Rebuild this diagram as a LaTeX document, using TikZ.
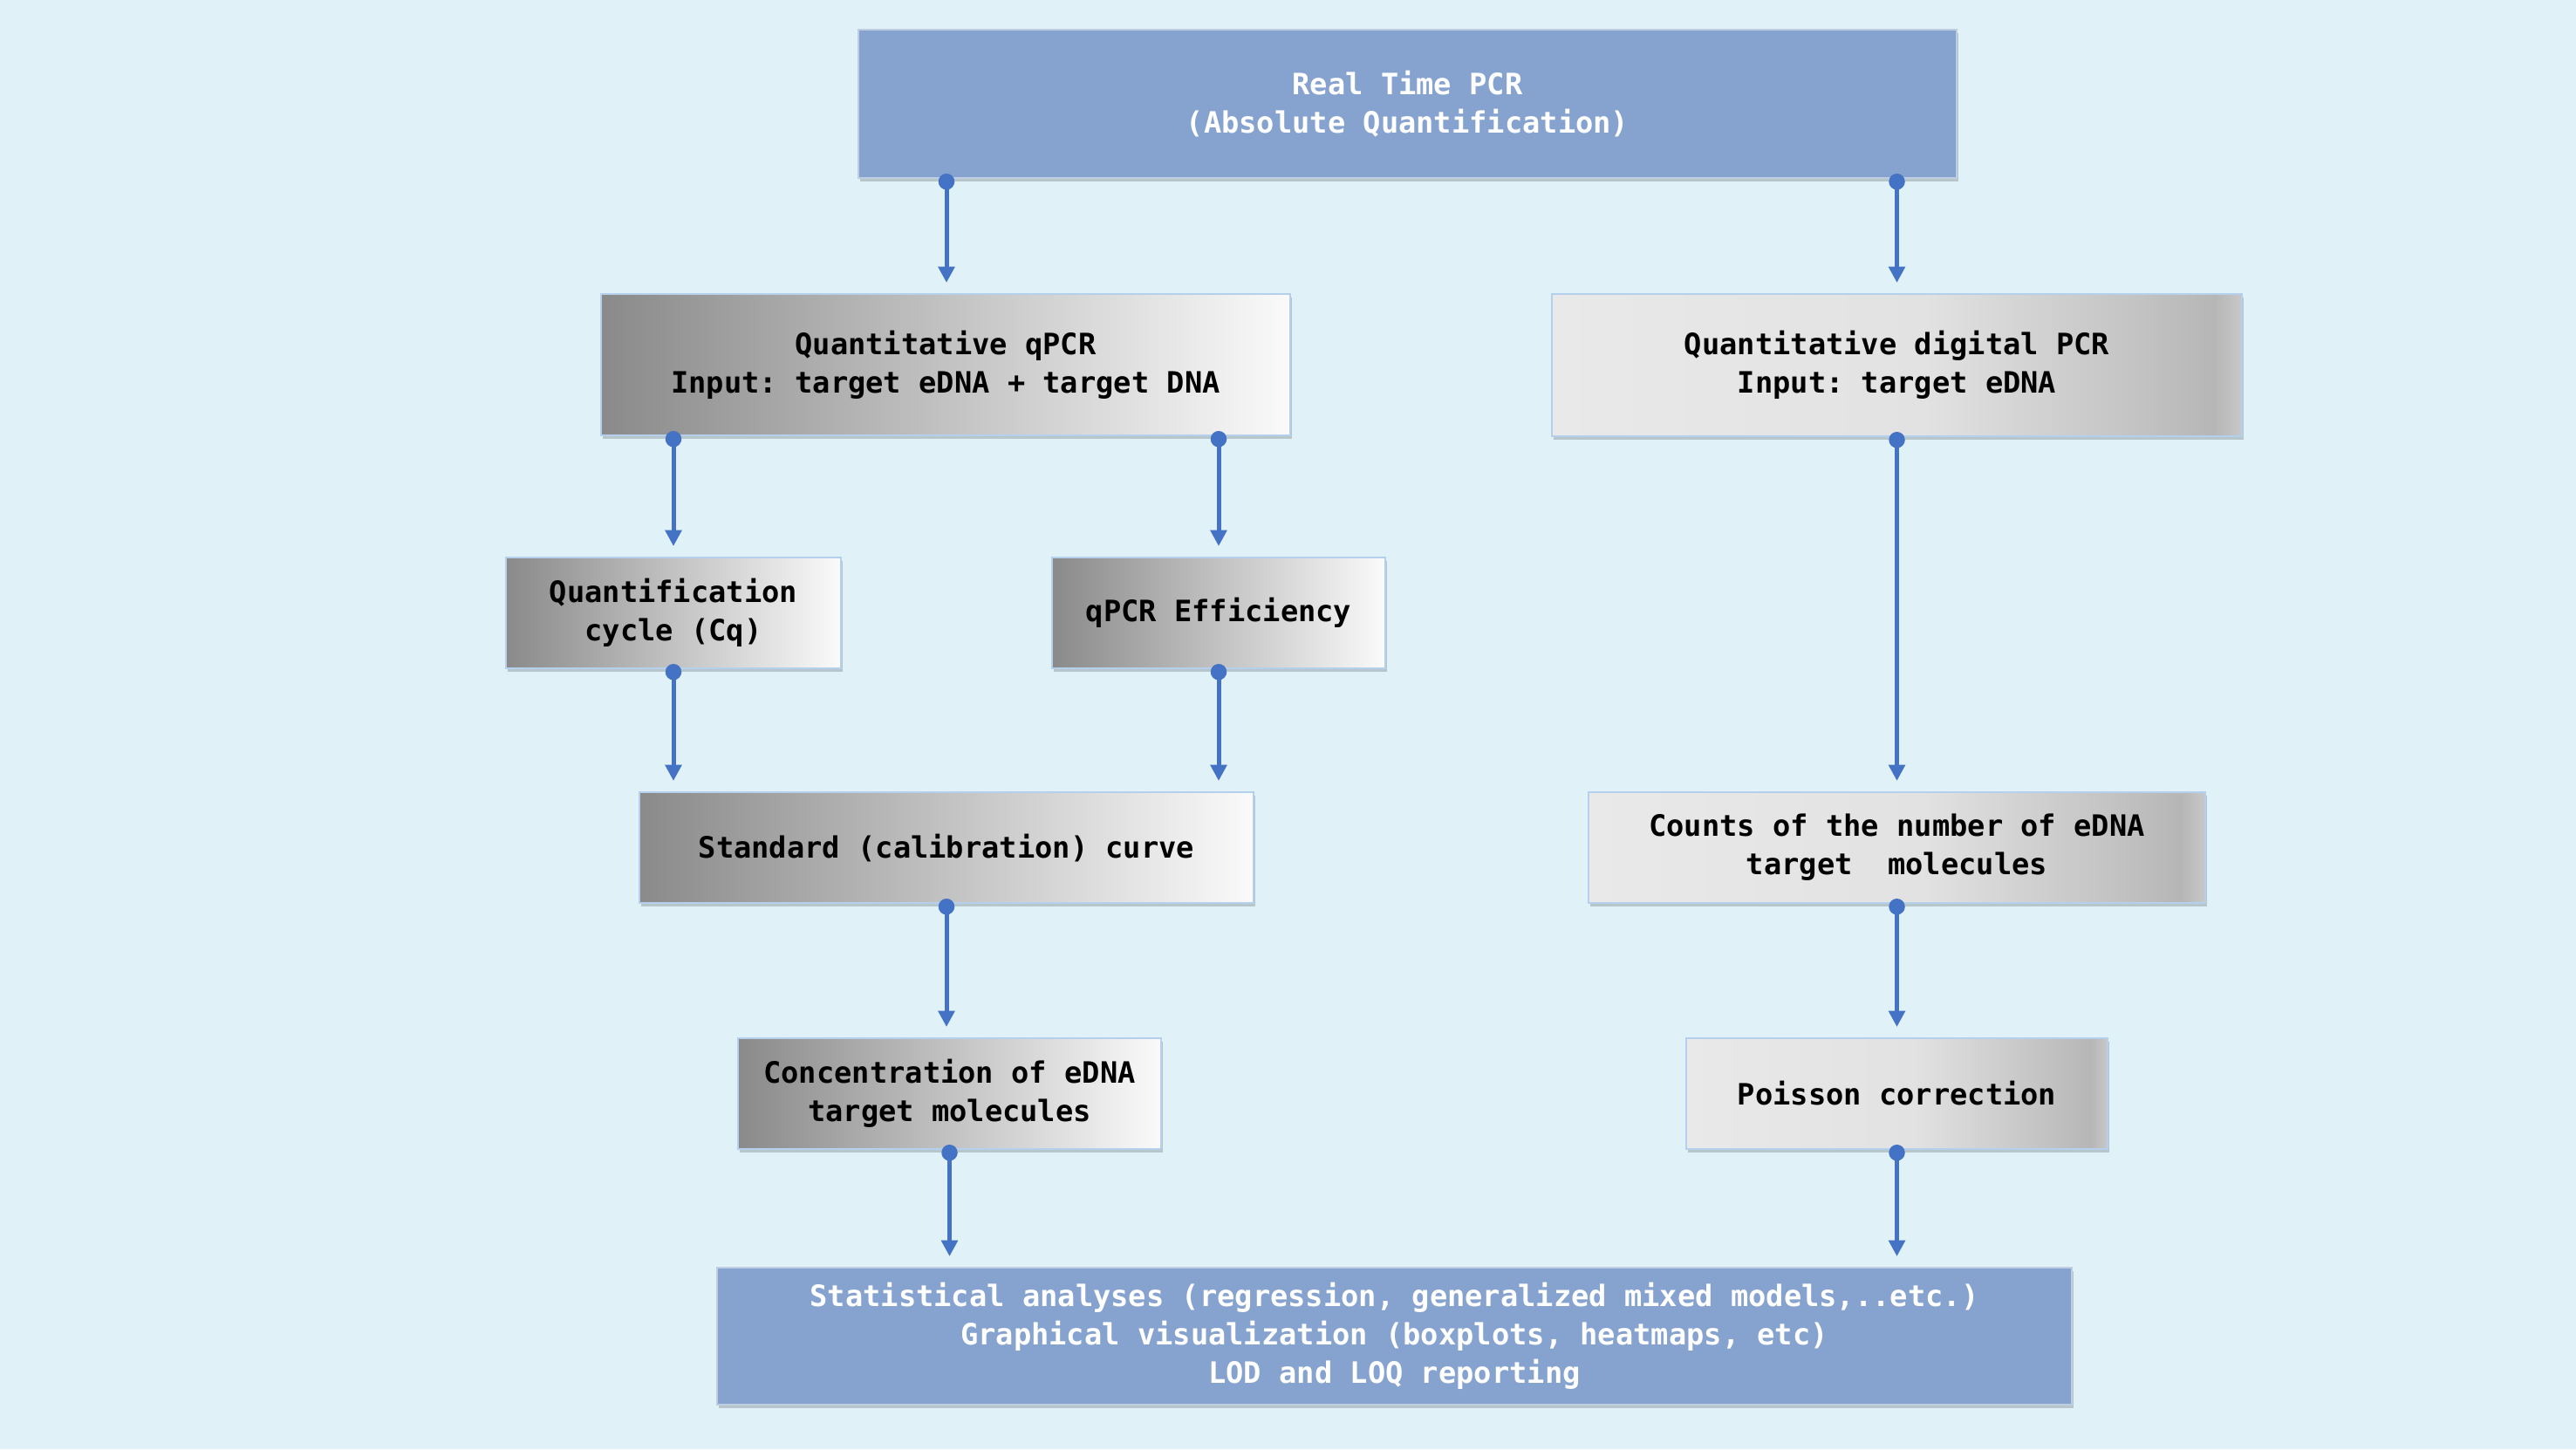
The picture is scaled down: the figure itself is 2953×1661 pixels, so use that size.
\documentclass[tikz,border=0pt]{standalone}
\usepackage{fontspec}
\setmonofont{DejaVu Sans Mono}
\usetikzlibrary{arrows.meta,shadows}
\definecolor{bg}{RGB}{224,242,248}
\definecolor{bluebox}{RGB}{134,162,207}
\definecolor{blueedge}{RGB}{190,205,225}
\definecolor{conn}{RGB}{68,114,196}
\definecolor{edge}{RGB}{180,208,236}
\definecolor{gdark}{RGB}{138,138,138}
\definecolor{glight}{RGB}{250,250,250}
\definecolor{lA}{RGB}{233,233,233}
\definecolor{lB}{RGB}{226,226,226}
\definecolor{lC}{RGB}{196,196,196}
\definecolor{lD}{RGB}{182,182,182}
\definecolor{lE}{RGB}{200,200,200}
\pgfdeclarehorizontalshading{lightdark}{100bp}{color(0bp)=(lA); color(25bp)=(lA); color(52bp)=(lB); color(67bp)=(lC); color(73bp)=(lD); color(75bp)=(lE); color(100bp)=(lE)}
\tikzset{
  base/.style={inner sep=0pt, align=center,
    font=\ttfamily\bfseries\fontsize{8.43}{11}\selectfont,
    drop shadow={fill=black, opacity=0.18, shadow xshift=0.5pt, shadow yshift=-0.9pt}},
  bluebx/.style={base, fill=bluebox, draw=blueedge, line width=0.5pt, text=white},
  darkbx/.style={base, left color=gdark, right color=glight, draw=edge, line width=0.5pt},
  lightbx/.style={base, shading=lightdark, shading angle=0, draw=edge, line width=0.5pt},
  arr/.style={draw=conn, line width=1.25pt,
    {Circle[length=4.6pt]}-{Triangle[length=4.6pt,width=4.6pt]},
    shorten <=-1.5pt, shorten >=3pt}
}
\begin{document}
\begin{tikzpicture}[x=0.25pt,y=-0.25pt]
\useasboundingbox (0,0) rectangle (2953,1661);
\fill[bg] (0,0) rectangle (2953,1661);

\node[bluebx, minimum width=314.75pt, minimum height=42.5pt] (top) at (1613.5,119)
  {Real Time PCR\\(Absolute Quantification)};
\node[darkbx, minimum width=197.5pt, minimum height=40.5pt] (qpcr) at (1084,418)
  {Quantitative qPCR\\Input: target eDNA + target DNA};
\node[lightbx, minimum width=197.75pt, minimum height=40.75pt] (dpcr) at (2174.5,418.5)
  {Quantitative digital PCR\\Input: target eDNA};
\node[darkbx, minimum width=96pt, minimum height=31.75pt] (cq) at (772,702.5)
  {Quantification\\cycle (Cq)};
\node[darkbx, minimum width=95.5pt, minimum height=31.75pt] (eff) at (1397,702.5)
  {qPCR Efficiency};
\node[darkbx, minimum width=176pt, minimum height=31.75pt] (std) at (1085,971.5)
  {Standard (calibration) curve};
\node[lightbx, minimum width=176.75pt, minimum height=31.75pt] (counts) at (2174.5,971.5)
  {Counts of the number of eDNA\\target\ \ molecules};
\node[darkbx, minimum width=121.25pt, minimum height=31.75pt] (conc) at (1088.5,1253.5)
  {Concentration of eDNA\\target molecules};
\node[lightbx, minimum width=120.75pt, minimum height=31.75pt] (poisson) at (2174.5,1253.5)
  {Poisson correction};
\node[bluebx, minimum width=388.25pt, minimum height=39.25pt] (bottom) at (1598.5,1531.5)
  {Statistical analyses (regression, generalized mixed models,..etc.)\\Graphical visualization (boxplots, heatmaps, etc)\\LOD and LOQ reporting};

\draw[arr] (top.south -| std) -- (qpcr.north -| std);
\draw[arr] (top.south -| dpcr) -- (dpcr.north);
\draw[arr] (qpcr.south -| cq) -- (cq.north);
\draw[arr] (qpcr.south -| eff) -- (eff.north);
\draw[arr] (cq.south) -- (std.north -| cq);
\draw[arr] (eff.south) -- (std.north -| eff);
\draw[arr] (dpcr.south) -- (counts.north);
\draw[arr] (std.south) -- (conc.north -| std);
\draw[arr] (counts.south) -- (poisson.north);
\draw[arr] (conc.south) -- (bottom.north -| conc);
\draw[arr] (poisson.south) -- (bottom.north -| poisson);
\end{tikzpicture}
\end{document}
